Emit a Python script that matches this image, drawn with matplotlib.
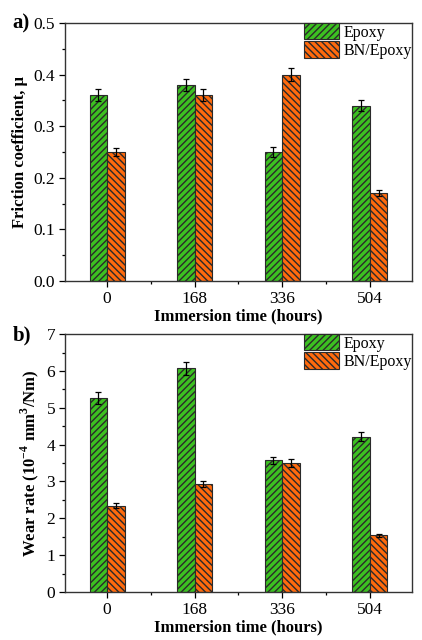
import numpy as np
import matplotlib
matplotlib.use("Agg")
import matplotlib.pyplot as plt
from matplotlib.ticker import MultipleLocator

plt.rcParams['font.family'] = ['Liberation Serif', 'DejaVu Serif']
plt.rcParams['mathtext.fontset'] = 'custom'
plt.rcParams['mathtext.rm'] = 'Liberation Serif'
plt.rcParams['mathtext.bf'] = 'Liberation Serif:bold'
plt.rcParams['hatch.linewidth'] = 1.0

# data
times = ['0', '168', '336', '504']
friction_epoxy = [0.36, 0.38, 0.25, 0.34]
friction_epoxy_err = [0.012, 0.012, 0.009, 0.011]
friction_bn = [0.25, 0.36, 0.40, 0.17]
friction_bn_err = [0.007, 0.012, 0.013, 0.006]
wear_epoxy = [5.27, 6.07, 3.57, 4.22]
wear_epoxy_err = [0.16, 0.17, 0.10, 0.13]
wear_bn = [2.34, 2.93, 3.51, 1.54]
wear_bn_err = [0.07, 0.08, 0.11, 0.04]

green = '#3cc021'
orange = '#ff6a0d'
edge = '#2a2a2a'

fig = plt.figure(figsize=(4.22, 6.4), dpi=100)
ax1 = fig.add_axes([0.154, 0.561, 0.822, 0.403])
ax2 = fig.add_axes([0.154, 0.075, 0.822, 0.403])

x = np.arange(len(times))
w = 0.2


def draw(ax, a, a_err, b, b_err, ylim, major, minor, ylabel, fmt):
    ax.bar(x - w / 2, a, w, color=green, edgecolor=edge, hatch='/////',
           linewidth=0.8, label='Epoxy')
    ax.bar(x + w / 2, b, w, color=orange, edgecolor=edge, hatch='\\\\\\\\\\',
           linewidth=0.8, label='BN/Epoxy')
    ax.errorbar(x - w / 2, a, yerr=a_err, fmt='none', ecolor='black',
                elinewidth=0.9, capsize=2.5, capthick=0.9)
    ax.errorbar(x + w / 2, b, yerr=b_err, fmt='none', ecolor='black',
                elinewidth=0.9, capsize=2.5, capthick=0.9)
    ax.set_xlim(-0.48, 3.48)
    ax.set_ylim(*ylim)
    ax.set_xticks(x)
    ax.set_xticklabels(times)
    ax.xaxis.set_minor_locator(MultipleLocator(0.5))
    ax.yaxis.set_major_locator(MultipleLocator(major))
    ax.yaxis.set_minor_locator(MultipleLocator(minor))
    ax.yaxis.set_major_formatter(fmt)
    ax.tick_params(which='major', direction='out', length=4, width=0.9,
                   labelsize=12.5, pad=3)
    ax.tick_params(which='minor', direction='out', length=2, width=0.9)
    for s in ax.spines.values():
        s.set_linewidth(1.0)
        s.set_color('#333333')
    ax.set_xlabel('Immersion time (hours)', fontsize=12, fontweight='bold',
                  labelpad=1)
    ax.set_ylabel(ylabel, fontsize=12, fontweight='bold', labelpad=4)
    ax.legend(loc='upper right', bbox_to_anchor=(1.0, 1.0), frameon=False,
              fontsize=11.5, handlelength=2.2, handleheight=1.2,
              labelspacing=0.05, borderaxespad=0.0, borderpad=0.0,
              handletextpad=0.3)


draw(ax1, friction_epoxy, friction_epoxy_err, friction_bn, friction_bn_err,
     (0, 0.5), 0.1, 0.05, 'Friction coefficient, μ', '{x:.1f}')
draw(ax2, wear_epoxy, wear_epoxy_err, wear_bn, wear_bn_err,
     (0, 7), 1, 0.5, r'Wear rate (10$^{\mathbf{-4}}$ mm$^{\mathbf{3}}$/Nm)',
     '{x:.0f}')

fig.text(0.03, 0.963, 'a)', fontsize=15, fontweight='bold', va='center')
fig.text(0.03, 0.476, 'b)', fontsize=15, fontweight='bold', va='center')

fig.savefig('out.png', dpi=100)
